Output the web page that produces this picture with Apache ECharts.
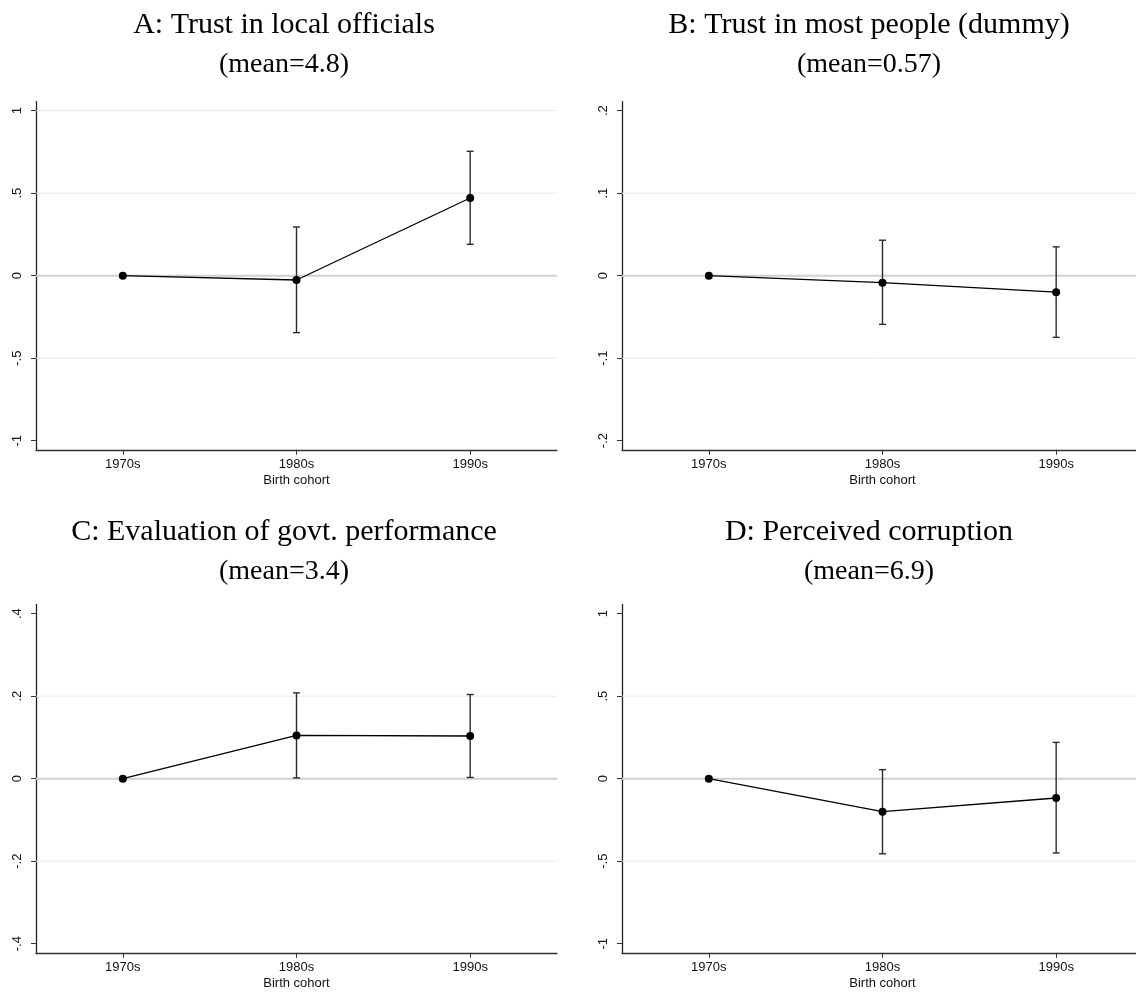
<!DOCTYPE html>
<html>
<head>
<meta charset="utf-8">
<script src="https://cdn.jsdelivr.net/npm/echarts@6/dist/echarts.min.js"></script>
<style>
  html, body { margin: 0; padding: 0; background: #fff; }
  #chart { width: 1136px; height: 994px; }
</style>
</head>
<body>
<div id="chart"></div>
<script>
// Birth-cohort coefficients (1970s = reference group) with 95% confidence bounds
const categories = ['1970s', '1980s', '1990s'];

const titlesMain = ['A: Trust in local officials', 'B: Trust in most people (dummy)',
                    'C: Evaluation of govt. performance', 'D: Perceived corruption'];
const titlesSub = ['(mean=4.8)', '(mean=0.57)', '(mean=3.4)', '(mean=6.9)'];

const estA = [0, -0.026, 0.471];
const lowA = [0, -0.345, 0.190];
const highA = [0, 0.295, 0.754];

const estB = [0, -0.0085, -0.020];
const lowB = [0, -0.059, -0.0747];
const highB = [0, 0.043, 0.035];

const estC = [0, 0.105, 0.1035];
const lowC = [0, 0.002, 0.003];
const highC = [0, 0.208, 0.204];

const estD = [0, -0.200, -0.117];
const lowD = [0, -0.455, -0.450];
const highD = [0, 0.055, 0.220];

const ticksA = [-1, -0.5, 0, 0.5, 1];
const ticksB = [-0.2, -0.1, 0, 0.1, 0.2];
const ticksC = [-0.4, -0.2, 0, 0.2, 0.4];
const ticksD = [-1, -0.5, 0, 0.5, 1];

// light gridlines per panel (zero line is drawn separately)
const gridA = [-0.5, 0.5, 1];
const gridB = [-0.1, 0.1];
const gridC = [-0.2, 0.2];
const gridD = [-0.5, 0.5];

const panels = [
  { est: estA, low: lowA, high: highA, ticks: ticksA, grid: gridA },
  { est: estB, low: lowB, high: highB, ticks: ticksB, grid: gridB },
  { est: estC, low: lowC, high: highC, ticks: ticksC, grid: gridC },
  { est: estD, low: lowD, high: highD, ticks: ticksD, grid: gridD }
];

// layout of the 2x2 panels
const colLeft = [36, 622];
const plotWidth = 521;
const zeroY = [275.7, 778.7];
const halfHeight = 174.1;       // pixels from zero line to plot edge
const titleY = [[25, 65], [532, 572]];
const titleX = [284, 869];
const pad = 1.055;              // axis range beyond outermost tick

const fmt = v => {
  const s = String(Math.round(v * 1000) / 1000);
  return s.replace(/^(-?)0\./, '$1.');
};

const grids = [], xAxes = [], yAxes = [], series = [], graphics = [];

// horizontal reference lines spanning the plot area
function hLineRenderer(params, api) {
  const cs = params.coordSys;
  const y = api.coord([0, api.value(0)])[1];
  const isZero = api.value(0) === 0;
  return {
    type: 'line',
    shape: { x1: cs.x, y1: y, x2: cs.x + cs.width, y2: y },
    style: isZero ? { stroke: '#d0d0d0', lineWidth: 2 } : { stroke: '#e4eced', lineWidth: 1 }
  };
}

panels.forEach((p, i) => {
  const col = i % 2, row = Math.floor(i / 2);
  const tmax = p.ticks[p.ticks.length - 1];
  grids.push({
    left: colLeft[col],
    top: zeroY[row] - halfHeight,
    width: plotWidth,
    height: halfHeight * 2,
    containLabel: false,
    outerBoundsMode: 'none'
  });
  xAxes.push({
    gridIndex: i,
    type: 'category',
    position: 'bottom',
    data: categories,
    boundaryGap: true,
    name: 'Birth cohort',
    nameLocation: 'middle',
    nameGap: 24,
    nameTextStyle: { fontFamily: 'Liberation Sans', fontSize: 13, color: '#111' },
    axisLine: { show: true, onZero: false, lineStyle: { color: '#333', width: 1.3 } },
    axisTick: { show: true, alignWithLabel: true, length: 5, lineStyle: { color: '#333', width: 1 } },
    axisLabel: { fontFamily: 'Liberation Sans', fontSize: 13, color: '#111', margin: 8 },
    splitLine: { show: false }
  });
  yAxes.push({
    gridIndex: i,
    type: 'value',
    position: 'left',
    min: -tmax * pad,
    max: tmax * pad,
    axisLine: { show: true, onZero: false, lineStyle: { color: '#222', width: 1.3 } },
    axisTick: { show: true, length: 5, customValues: p.ticks, lineStyle: { color: '#333', width: 1 } },
    axisLabel: {
      customValues: p.ticks,
      rotate: 90,
      margin: 12,
      fontFamily: 'Liberation Sans',
      fontSize: 13,
      color: '#111',
      formatter: fmt
    },
    splitLine: { show: false }
  });

  // gridlines and zero reference line
  series.push({
    type: 'custom',
    xAxisIndex: i,
    yAxisIndex: i,
    z: 1,
    silent: true,
    data: p.grid.concat([0]).map(v => [v]),
    encode: { y: 0 },
    renderItem: hLineRenderer
  });

  // confidence intervals with caps
  series.push({
    type: 'custom',
    xAxisIndex: i,
    yAxisIndex: i,
    z: 3,
    silent: true,
    data: categories.map((c, k) => [k, p.low[k], p.high[k]]),
    encode: { x: 0, y: [1, 2] },
    renderItem: function (params, api) {
      const lo = api.value(1), hi = api.value(2);
      if (lo === hi) return null;
      const a = api.coord([api.value(0), hi]);
      const b = api.coord([api.value(0), lo]);
      const w = 3.5;
      const style = { stroke: '#2a2a2a', lineWidth: 1.4 };
      return {
        type: 'group',
        children: [
          { type: 'line', shape: { x1: a[0], y1: a[1], x2: b[0], y2: b[1] }, style: style },
          { type: 'line', shape: { x1: a[0] - w, y1: a[1], x2: a[0] + w, y2: a[1] }, style: style },
          { type: 'line', shape: { x1: b[0] - w, y1: b[1], x2: b[0] + w, y2: b[1] }, style: style }
        ]
      };
    }
  });

  // point estimates connected by a line
  series.push({
    type: 'line',
    xAxisIndex: i,
    yAxisIndex: i,
    data: p.est,
    z: 4,
    silent: true,
    symbol: 'circle',
    symbolSize: 8,
    showSymbol: true,
    lineStyle: { color: '#000', width: 1.3 },
    itemStyle: { color: '#000', borderWidth: 0 }
  });

  graphics.push({
    type: 'text',
    x: titleX[col],
    y: titleY[row][0],
    style: {
      text: titlesMain[i],
      font: '30px "Liberation Serif"',
      fill: '#000',
      textAlign: 'center',
      textVerticalAlign: 'middle'
    }
  });
  graphics.push({
    type: 'text',
    x: titleX[col],
    y: titleY[row][1],
    style: {
      text: titlesSub[i],
      font: '28px "Liberation Serif"',
      fill: '#000',
      textAlign: 'center',
      textVerticalAlign: 'middle'
    }
  });
});

const chart = echarts.init(document.getElementById('chart'), null, { renderer: 'canvas' });
chart.setOption({
  animation: false,
  backgroundColor: '#fff',
  grid: grids,
  xAxis: xAxes,
  yAxis: yAxes,
  series: series,
  graphic: graphics
});
</script>
</body>
</html>
